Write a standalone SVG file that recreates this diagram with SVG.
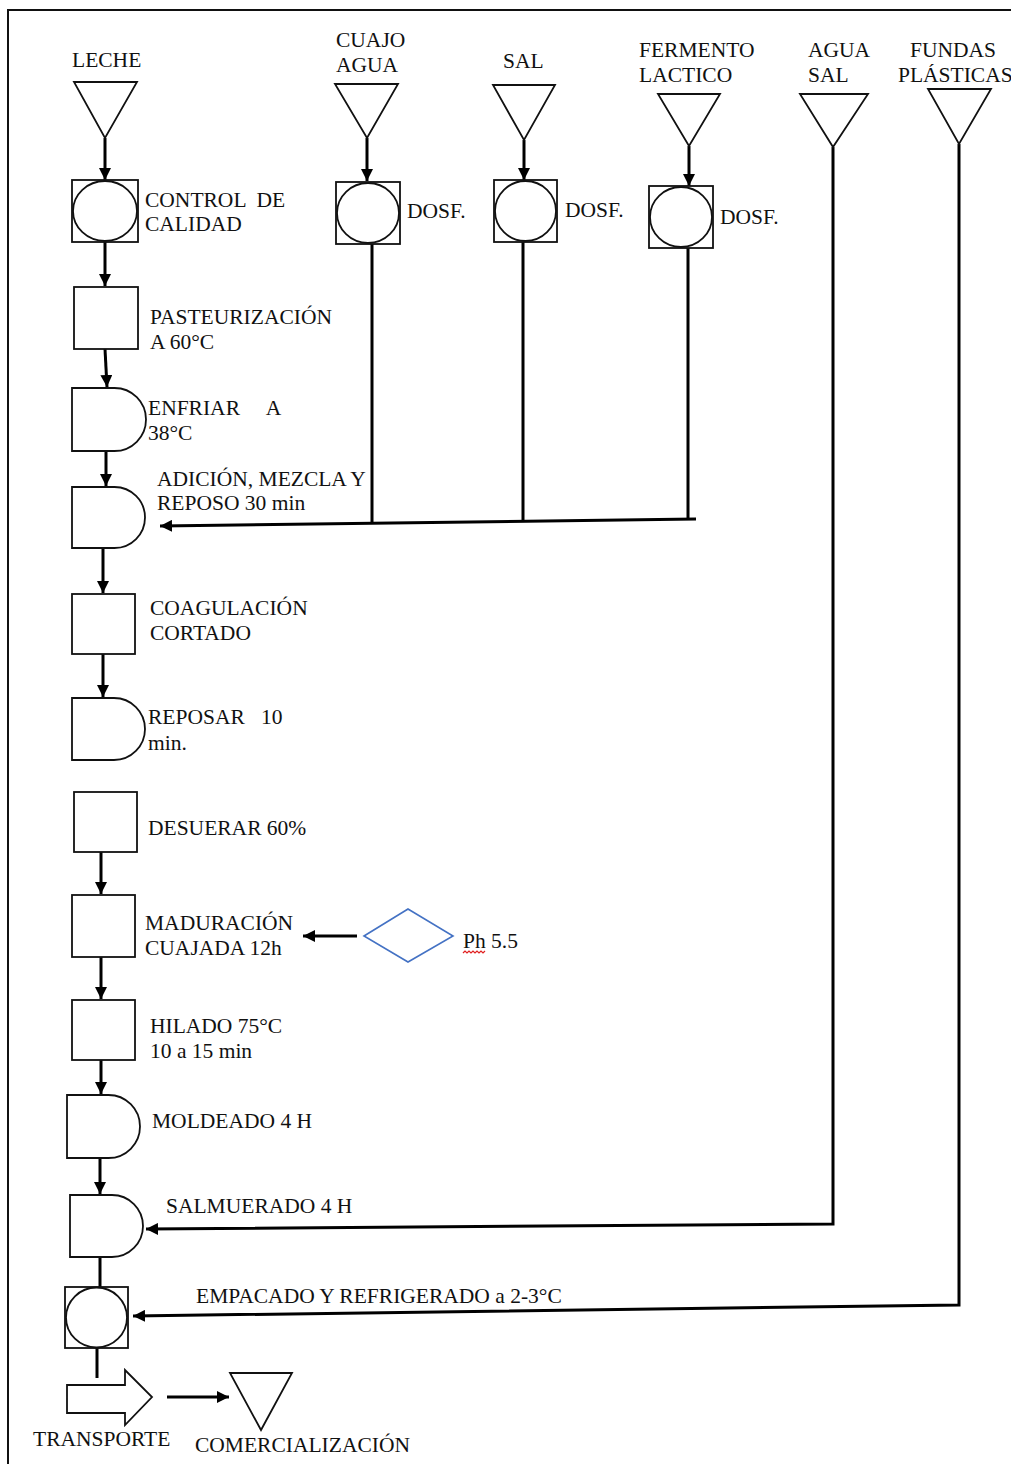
<svg xmlns="http://www.w3.org/2000/svg" width="1011" height="1464" viewBox="0 0 1011 1464">
<style>
text{font-family:"Liberation Serif","Times New Roman",serif;font-size:21.5px;fill:#111;white-space:pre}
.sh{fill:#fff;stroke:#111;stroke-width:1.8}
.cn{fill:none;stroke:#000;stroke-width:3}
.ar{marker-end:url(#ah)}
</style>
<defs>
<marker id="ah" markerUnits="userSpaceOnUse" markerWidth="13" markerHeight="12" refX="12" refY="6" orient="auto">
<path d="M0,0 L12,6 L0,12 Z" fill="#000"/>
</marker>
</defs>
<rect width="1011" height="1464" fill="#fff"/>
<path d="M8,1464 V10 H1011" fill="none" stroke="#111" stroke-width="2"/>

<g id="connectors">
<path class="cn ar" d="M105,138 V180"/>
<path class="cn ar" d="M105,242 V286"/>
<path class="cn ar" d="M105,349 L107,387"/>
<path class="cn ar" d="M106,451 V486"/>
<path class="cn ar" d="M103,548 V593"/>
<path class="cn ar" d="M103,654 V697"/>
<path class="cn ar" d="M101,852 V894"/>
<path class="cn ar" d="M357,936 H303"/>
<path class="cn ar" d="M101,957 V999"/>
<path class="cn ar" d="M101,1060 V1094"/>
<path class="cn ar" d="M100,1158 V1194"/>
<path class="cn" d="M100,1257 V1287"/>
<path class="cn" d="M97,1348 V1378"/>
<path class="cn ar" d="M167,1397 H229"/>
<path class="cn ar" d="M367,138 V181"/>
<path class="cn ar" d="M524,140 V180"/>
<path class="cn ar" d="M689,146 V186"/>
<path class="cn" d="M372,244 V524"/>
<path class="cn" d="M523,242 V521"/>
<path class="cn" d="M688,248 V519"/>
<path class="cn ar" d="M696,519 L160,526"/>
<path class="cn ar" d="M833,147 V1224 L146,1229"/>
<path class="cn ar" d="M959,144 V1305 L133,1316"/>
</g>

<g id="leche">
<polygon class="sh" points="74,82 137,82 105,138"/>
<text x="72" y="67">LECHE</text>
</g>
<g id="control">
<rect class="sh" x="72" y="180" width="66" height="62"/>
<ellipse class="sh" cx="105" cy="211" rx="32" ry="30"/>
<text x="145" y="207" xml:space="preserve">CONTROL  DE</text>
<text x="145" y="231">CALIDAD</text>
</g>
<g id="cuajo">
<polygon class="sh" points="335,84 398,84 367,138"/>
<text x="336" y="47">CUAJO</text>
<text x="336" y="72">AGUA</text>
</g>
<g id="dosf1">
<rect class="sh" x="336" y="182" width="64" height="62"/>
<ellipse class="sh" cx="368" cy="213" rx="31" ry="30"/>
<text x="407" y="218">DOSF.</text>
</g>
<g id="sal">
<polygon class="sh" points="493,85 555,85 524,140"/>
<text x="503" y="68">SAL</text>
</g>
<g id="dosf2">
<rect class="sh" x="494" y="180" width="63" height="62"/>
<ellipse class="sh" cx="525.5" cy="211" rx="30.5" ry="30"/>
<text x="565" y="217">DOSF.</text>
</g>
<g id="fermento">
<polygon class="sh" points="658,94 720,94 689,146"/>
<text x="639" y="57">FERMENTO</text>
<text x="639" y="82">LACTICO</text>
</g>
<g id="dosf3">
<rect class="sh" x="649" y="186" width="64" height="62"/>
<ellipse class="sh" cx="681" cy="217" rx="31" ry="30"/>
<text x="720" y="224">DOSF.</text>
</g>
<g id="aguasal">
<polygon class="sh" points="800,94 868,94 833,147"/>
<text x="808" y="57">AGUA</text>
<text x="808" y="82">SAL</text>
</g>
<g id="fundas">
<polygon class="sh" points="928,89 991,89 959,144"/>
<text x="910" y="57">FUNDAS</text>
<text x="898" y="82">PLÁSTICAS</text>
</g>
<g id="pasteurizacion">
<rect class="sh" x="74" y="287" width="64" height="62"/>
<text x="150" y="324">PASTEURIZACIÓN</text>
<text x="150" y="349">A 60°C</text>
</g>
<g id="enfriar">
<path class="sh" d="M72,388 H114.5 A31.5,31.5 0 0 1 114.5,451 H72 Z"/>
<text x="148" y="415" xml:space="preserve">ENFRIAR     A</text>
<text x="148" y="440">38°C</text>
</g>
<g id="adicion">
<path class="sh" d="M72,487 H114.5 A30.5,30.5 0 0 1 114.5,548 H72 Z"/>
<text x="157" y="486">ADICIÓN, MEZCLA Y</text>
<text x="157" y="510">REPOSO 30 min</text>
</g>
<g id="coagulacion">
<rect class="sh" x="72" y="594" width="63" height="60"/>
<text x="150" y="615">COAGULACIÓN</text>
<text x="150" y="640">CORTADO</text>
</g>
<g id="reposar">
<path class="sh" d="M72,698 H114 A31,31 0 0 1 114,760 H72 Z"/>
<text x="148" y="724" xml:space="preserve">REPOSAR   10</text>
<text x="148" y="750">min.</text>
</g>
<g id="desuerar">
<rect class="sh" x="74" y="792" width="63" height="60"/>
<text x="148" y="835">DESUERAR 60%</text>
</g>
<g id="maduracion">
<rect class="sh" x="72" y="895" width="63" height="62"/>
<text x="145" y="930">MADURACIÓN</text>
<text x="145" y="955">CUAJADA 12h</text>
</g>
<g id="ph">
<polygon points="364,936 408,909 453,936 408,962" fill="#fff" stroke="#4472c4" stroke-width="1.6"/>
<text x="463" y="948">Ph 5.5</text>
<path d="M463,953 l2,-2 l2,2 l2,-2 l2,2 l2,-2 l2,2 l2,-2 l2,2 l2,-2 l2,2 l2,-2" fill="none" stroke="#e02020" stroke-width="1.2"/>
</g>
<g id="hilado">
<rect class="sh" x="72" y="1000" width="63" height="60"/>
<text x="150" y="1033">HILADO 75°C</text>
<text x="150" y="1058">10 a 15 min</text>
</g>
<g id="moldeado">
<path class="sh" d="M67,1095 H108.5 A31.5,31.5 0 0 1 108.5,1158 H67 Z"/>
<text x="152" y="1128">MOLDEADO 4 H</text>
</g>
<g id="salmuerado">
<path class="sh" d="M70,1195 H112 A31,31 0 0 1 112,1257 H70 Z"/>
<text x="166" y="1213">SALMUERADO 4 H</text>
</g>
<g id="empacado">
<rect class="sh" x="65" y="1287" width="63" height="61"/>
<ellipse class="sh" cx="96.5" cy="1317.5" rx="30.5" ry="30"/>
<text x="196" y="1303">EMPACADO Y REFRIGERADO a 2-3°C</text>
</g>
<g id="transporte">
<polygon class="sh" points="67,1385 125,1385 125,1370 152,1397 125,1425 125,1413 67,1413" stroke="#333"/>
<text x="33" y="1446">TRANSPORTE</text>
</g>
<g id="comercializacion">
<polygon class="sh" points="230,1373 292,1373 261,1430"/>
<text x="195" y="1452">COMERCIALIZACIÓN</text>
</g>
</svg>
